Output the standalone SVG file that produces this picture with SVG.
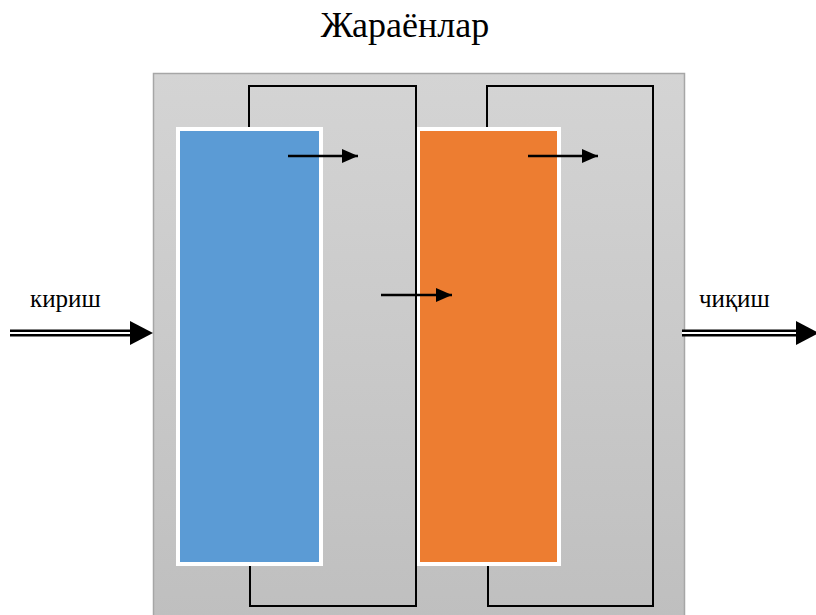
<svg xmlns="http://www.w3.org/2000/svg" width="816" height="615" viewBox="0 0 816 615">
<defs>
<linearGradient id="bg" x1="0" y1="0" x2="0" y2="1">
<stop offset="0" stop-color="#d4d4d4"/>
<stop offset="1" stop-color="#bfbfbf"/>
</linearGradient>
<marker id="ah" markerWidth="16" markerHeight="14" refX="16" refY="7" orient="auto" markerUnits="userSpaceOnUse">
<path d="M0,0 L16,7 L0,14 Z" fill="#000"/>
</marker>
<style>
.lbl{font-family:"Liberation Serif","Times New Roman","DejaVu Serif",serif;fill:#000}
.wire{fill:none;stroke:#000;stroke-width:2}
</style>
</defs>
<rect width="816" height="615" fill="#fff"/>
<text class="lbl" x="405" y="37" font-size="36" text-anchor="middle">Жараёнлар</text>
<g id="process">
<rect x="153.5" y="73.5" width="531" height="545" fill="url(#bg)" stroke="#a6a6a6" stroke-width="1.5"/>
</g>
<g id="connectors">
<path class="wire" d="M249,127 V86 H416 V606 H250 V566"/>
<path class="wire" d="M487,127 V86 H653 V606 H488 V566"/>
</g>
<g id="block1">
<rect x="178" y="129" width="143" height="435" fill="#5b9bd5" stroke="#fff" stroke-width="4"/>
</g>
<g id="block2">
<rect x="418" y="129" width="141" height="435" fill="#ed7d31" stroke="#fff" stroke-width="4"/>
<line x1="416" y1="127" x2="416" y2="566" stroke="#000" stroke-width="2"/>
</g>
<g id="arrows">
<line x1="288" y1="156" x2="358" y2="156" stroke="#000" stroke-width="2.5" marker-end="url(#ah)"/>
<line x1="528" y1="156" x2="598" y2="156" stroke="#000" stroke-width="2.5" marker-end="url(#ah)"/>
<line x1="381" y1="295" x2="452" y2="295" stroke="#000" stroke-width="2.5" marker-end="url(#ah)"/>
</g>
<g id="input">
<text class="lbl" x="30" y="307" font-size="25">кириш</text>
<line x1="10" y1="333" x2="134" y2="333" stroke="#000" stroke-width="7"/>
<line x1="10" y1="333" x2="136" y2="333" stroke="#fff" stroke-width="2"/>
<path d="M130,321 L153,333 L130,345 Z" fill="#000"/>
</g>
<g id="output">
<text class="lbl" x="699" y="307" font-size="25">чиқиш</text>
<line x1="682" y1="333" x2="800" y2="333" stroke="#000" stroke-width="7"/>
<line x1="682" y1="333" x2="802" y2="333" stroke="#fff" stroke-width="2"/>
<path d="M796,321 L819,333 L796,345 Z" fill="#000"/>
</g>
</svg>
